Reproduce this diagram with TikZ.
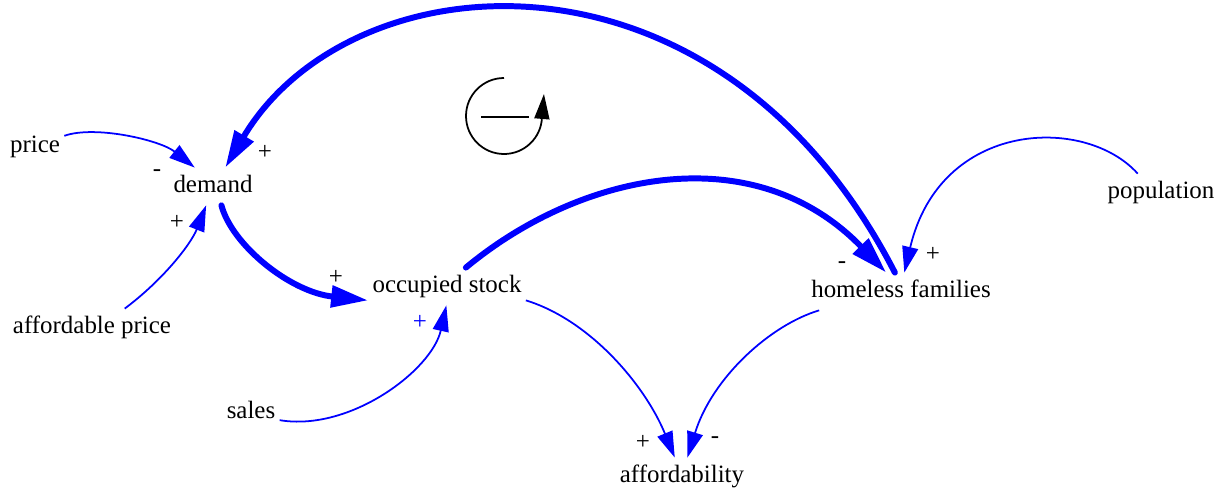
\documentclass[tikz,border=0pt]{standalone}
\usepackage{fontspec}
\setmainfont{Liberation Serif}
\usetikzlibrary{arrows.meta}
\tikzset{
  every picture/.style={line width=1pt},
  var/.style={anchor=base, inner xsep=2pt, inner ysep=3.5pt, text height=9.9pt, text depth=3.6pt},
  sign/.style={inner sep=0pt},
  link/.style={blue, line width=1pt, -{Triangle[length=0.52cm, width=0.32cm]}},
  mainlink/.style={blue, line width=3.4pt, line cap=round, -{Triangle[length=0.74cm, width=0.42cm]}},
}

\begin{document}
\begin{tikzpicture}[x=0.02cm, y=-0.02cm, font=\fontsize{14.2}{17}\selectfont]
    \useasboundingbox (0,0) rectangle (1226,487);

    % 变量
    \node[var] (price) at (35,152) {price};
    \node[var] (demand) at (213,192) {demand};
    \node[var] (affprice) at (92,333) {affordable price};
    \node[var] (occstock) at (447,292) {occupied stock};
    \node[var] (sales) at (251,418) {sales};
    \node[var] (afford) at (682,482) {affordability};
    \node[var] (homeless) at (901,297) {homeless families};
    \node[var] (population) at (1161,198) {population};

    % 主回路
    \draw[mainlink] (homeless.108) .. controls (717,-73) and (350,-42) .. (demand.57);
    \draw[mainlink] (demand.294) .. controls (232,245) and (290,292) .. (occstock.190);
    \draw[mainlink] (occstock.45) .. controls (581,172) and (754,136) .. (homeless.128);

    % 其他因果链
    \draw[link] (price.20) .. controls (95,125) and (160,140) .. (demand.134);
    \draw[link] (affprice.30) .. controls (163,280) and (191,244) .. (demand.250);
    \draw[link] (population.141) .. controls (1085,115) and (940,120) .. (homeless.80);
    \draw[link] (sales.-15) .. controls (350,432) and (432,370) .. (occstock.268);
    \draw[link] (occstock.350) .. controls (590,320) and (645,385) .. (afford.111);
    \draw[link] (homeless.193) .. controls (770,325) and (712,378) .. (afford.74);

    % 极性
    \node[sign] (pol1) at (157,173) {-};
    \node[sign] (pol2) at (265,152) {+};
    \node[sign] (pol3) at (177,222) {+};
    \node[sign] (pol4) at (336,277) {+};
    \node[sign, blue] (pol5) at (420,322) {+};
    \node[sign] (pol6) at (842,265) {-};
    \node[sign] (pol7) at (933,254) {+};
    \node[sign] (pol8) at (643,442) {+};
    \node[sign] (pol9) at (715,440) {-};

    % 回路标记
    \coordinate (loopc) at (504,116);
    \draw[-{Triangle[length=0.5cm, width=0.3cm]}] (loopc) ++(0,-38)
        arc[start angle=-90, end angle=-357, radius=38] -- ++(2,-24);
    \draw[line width=1.7pt] (481,117) -- (529,117);
\end{tikzpicture}
\end{document}
